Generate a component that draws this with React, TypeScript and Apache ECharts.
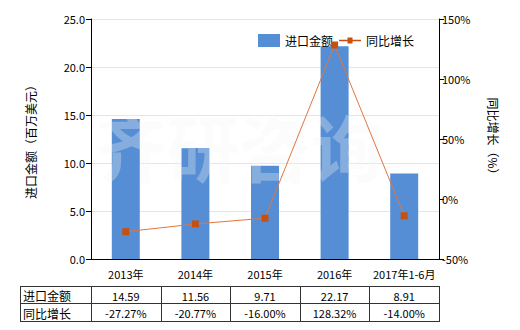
import React, { useEffect, useRef } from "react";
import * as echarts from "echarts";

const categories = ["2013年", "2014年", "2015年", "2016年", "2017年1-6月"];
const importValues = [14.59, 11.56, 9.71, 22.17, 8.91];
const growthValues = [-27.27, -20.77, -16.0, 128.32, -14.0];
const importLabels = ["14.59", "11.56", "9.71", "22.17", "8.91"];
const growthLabels = ["-27.27%", "-20.77%", "-16.00%", "128.32%", "-14.00%"];
const rowNames = ["进口金额", "同比增长"];

const FONT = "'Noto Sans CJK SC', 'Noto Sans', sans-serif";
const GL = 91, GR = 439, GT = 19, GB = 259;
const TL = 20, TT = 286, TM = 303, TBm = 321;

const LINE_ICON = "path://M0,5.75H8.5V3.5H13.5V5.75H22V7.25H13.5V9.5H8.5V7.25H0Z";

export default function App() {
  const ref = useRef<HTMLDivElement>(null);
  useEffect(() => {
    const chart = echarts.init(ref.current!, null, { renderer: "svg" });
    const option: any = {
      animation: false,
      backgroundColor: "#fff",
      textStyle: { fontFamily: FONT },
      grid: { left: GL, right: 520 - GR, top: GT, bottom: 330 - GB },
      legend: {
        top: 29,
        left: 253,
        itemGap: 6,
        itemWidth: 22,
        itemHeight: 13,
        textStyle: { fontSize: 12, color: "#000", fontFamily: FONT },
        data: [
          { name: "进口金额", icon: "rect" },
          { name: "同比增长", icon: LINE_ICON, itemStyle: { color: "#c8500f" } },
        ],
      },
      xAxis: {
        type: "category",
        data: categories,
        axisLine: { lineStyle: { color: "#000" } },
        axisTick: { alignWithLabel: true, length: 5, lineStyle: { color: "#000" } },
        axisLabel: { fontSize: 11, color: "#000", margin: 9, interval: 0, fontFamily: FONT },
      },
      yAxis: [
        {
          type: "value",
          min: 0,
          max: 25,
          interval: 5,
          name: "进口金额（百万美元）",
          nameLocation: "middle",
          nameGap: 55,
          nameTextStyle: { fontSize: 12, color: "#000", fontFamily: FONT },
          axisLine: { show: true, lineStyle: { color: "#000" } },
          axisTick: { show: true, length: 5, lineStyle: { color: "#000" } },
          axisLabel: {
            fontSize: 11,
            color: "#000",
            margin: 6,
            formatter: (v: number) => v.toFixed(1),
          },
          splitLine: { lineStyle: { color: "#dde8e8" } },
        },
        {
          type: "value",
          min: -50,
          max: 150,
          interval: 50,
          name: "同比增长（%）",
          nameLocation: "middle",
          nameGap: 48,
          nameRotate: -90,
          nameTextStyle: { fontSize: 12, color: "#000", fontFamily: FONT },
          axisLine: { show: true, lineStyle: { color: "#000" } },
          axisTick: { show: true, length: 5, lineStyle: { color: "#000" } },
          axisLabel: { fontSize: 11, color: "#000", margin: 3, formatter: "{value}%" },
          splitLine: { show: false },
        },
      ],
      series: [
        {
          name: "进口金额",
          type: "bar",
          data: importValues,
          barWidth: 28,
          itemStyle: { color: "#558ed5" },
          z: 2,
        },
        {
          name: "同比增长",
          type: "line",
          yAxisIndex: 1,
          data: growthValues,
          symbol: "rect",
          symbolSize: 7,
          lineStyle: { color: "#e0763d", width: 1 },
          itemStyle: { color: "#c8500f" },
          z: 5,
        },
      ],
    };
    chart.setOption(option);

    const centers = categories.map((c) => (chart.convertToPixel({ xAxisIndex: 0 }, c) as number));
    const colW = (GR - GL) / categories.length;
    const els: any[] = [];
    els.push({
      type: "text",
      left: 95,
      top: 108,
      z: 3,
      silent: true,
      style: {
        text: "齐研咨询",
        font: `bold 72px ${FONT}`,
        fill: "rgba(245,245,245,0.3)",
      },
    });
    const lc = "#333";
    const hl = (y: number) => ({ type: "line", shape: { x1: TL, y1: y, x2: GR, y2: y }, style: { stroke: lc, lineWidth: 1 } });
    els.push(hl(TT + 0.5), hl(TM + 0.5), hl(TBm + 0.5));
    const vxs = [TL, GL, ...categories.map((_, i) => GL + colW * (i + 1))];
    vxs.forEach((x) => {
      const xx = Math.round(x) + 0.5;
      els.push({ type: "line", shape: { x1: xx, y1: TT, x2: xx, y2: TBm + 1 }, style: { stroke: lc, lineWidth: 1 } });
    });
    const rowsY = [(TT + TM) / 2 + 1, (TM + TBm) / 2 + 1];
    rowNames.forEach((n, r) => {
      els.push({
        type: "text",
        x: TL + 3,
        y: rowsY[r],
        style: { text: n, font: `12px ${FONT}`, fill: "#000", textAlign: "left", textVerticalAlign: "middle" },
      });
    });
    const rows = [importLabels, growthLabels];
    rows.forEach((vals, r) => {
      vals.forEach((t, i) => {
        els.push({
          type: "text",
          x: centers[i],
          y: rowsY[r],
          style: { text: t, font: `11px ${FONT}`, fill: "#000", textAlign: "center", textVerticalAlign: "middle" },
        });
      });
    });
    chart.setOption({ graphic: els });
    return () => chart.dispose();
  }, []);
  return <div ref={ref} style={{ width: 520, height: 330, position: "absolute", left: 0, top: 0 }} />;
}
